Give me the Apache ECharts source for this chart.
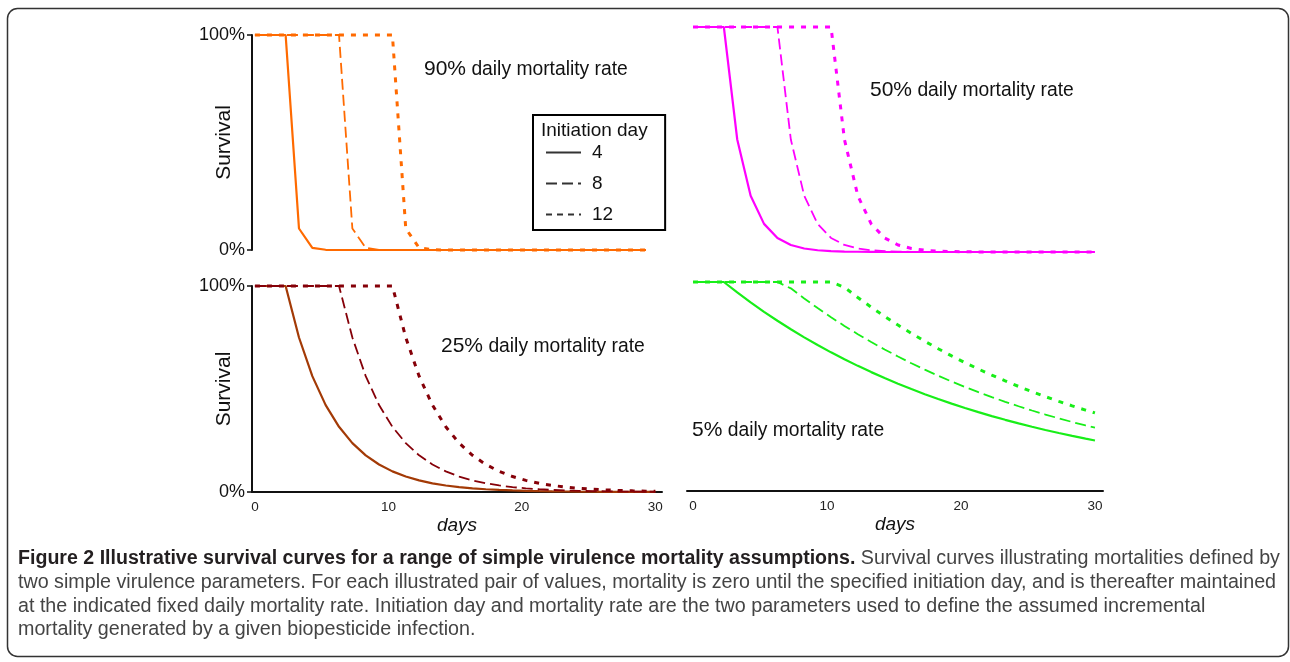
<!DOCTYPE html>
<html><head><meta charset="utf-8">
<script src="https://cdn.jsdelivr.net/npm/echarts@6/dist/echarts.min.js"></script>
<style>html,body{margin:0;padding:0;background:#fff}#c{width:1290px;height:662px}</style>
</head><body><div id="c"></div>
<script>
// ---- data (days after start; survival in %) ----
const days = [0, 1.3, 2.3, 3.3, 4.3, 5.3, 6.3, 7.3, 8.3, 9.3, 10.3, 11.3, 12.3, 13.3, 14.3, 15.3, 16.3, 17.3, 18.3, 19.3, 20.3, 21.3, 22.3, 23.3, 24.3, 25.3, 26.3, 27.3, 28.3, 29.3, 30];
const xTickValues = [0, 10, 20, 30];
const initiationDays = ['4', '8', '12'];
const rateLabels = ['90%', '50%', '25%', '5%'];

// 90% daily mortality rate (top-left panel ends at day 29.3)
const s90_d4  = [100,100,100,10,1,0.1,0,0,0,0,0,0,0,0,0,0,0,0,0,0,0,0,0,0,0,0,0,0,0,0];
const s90_d8  = [100,100,100,100,100,100,100,10,1,0.1,0,0,0,0,0,0,0,0,0,0,0,0,0,0,0,0,0,0,0,0];
const s90_d12 = [100,100,100,100,100,100,100,100,100,100,100,10,1,0.1,0,0,0,0,0,0,0,0,0,0,0,0,0,0,0,0];

// 50% daily mortality rate
const s50_d4  = [100,100,100,50,25,12.5,6.25,3.13,1.56,0.78,0.39,0.2,0.1,0.05,0.02,0.01,0,0,0,0,0,0,0,0,0,0,0,0,0,0,0];
const s50_d8  = [100,100,100,100,100,100,100,50,25,12.5,6.25,3.13,1.56,0.78,0.39,0.2,0.1,0.05,0.02,0.01,0,0,0,0,0,0,0,0,0,0,0];
const s50_d12 = [100,100,100,100,100,100,100,100,100,100,100,50,25,12.5,6.25,3.13,1.56,0.78,0.39,0.2,0.1,0.05,0.02,0.01,0,0,0,0,0,0,0];

// 25% daily mortality rate
const s25_d4  = [100,100,100,75,56.25,42.19,31.64,23.73,17.8,13.35,10.01,7.51,5.63,4.22,3.17,2.38,1.78,1.34,1,0.75,0.56,0.42,0.32,0.24,0.18,0.13,0.1,0.08,0.06,0.04,0.03];
const s25_d8  = [100,100,100,100,100,100,100,75,56.25,42.19,31.64,23.73,17.8,13.35,10.01,7.51,5.63,4.22,3.17,2.38,1.78,1.34,1,0.75,0.56,0.42,0.32,0.24,0.18,0.13,0.11];
const s25_d12 = [100,100,100,100,100,100,100,100,100,100,100,75,56.25,42.19,31.64,23.73,17.8,13.35,10.01,7.51,5.63,4.22,3.17,2.38,1.78,1.34,1,0.75,0.56,0.42,0.35];

// 5% daily mortality rate
const s5_d4  = [100,100,100,95,90.25,85.74,81.45,77.38,73.51,69.83,66.34,63.02,59.87,56.88,54.04,51.33,48.77,46.33,44.01,41.81,39.72,37.74,35.85,34.06,32.35,30.74,29.2,27.74,26.35,25.03,24.15];
const s5_d8  = [100,100,100,100,100,100,100,96.97,92.12,87.51,83.14,78.98,75.03,71.28,67.72,64.33,61.11,58.06,55.16,52.4,49.78,47.29,44.92,42.68,40.55,38.52,36.59,34.76,33.02,31.37,30.27];
const s5_d12 = [100,100,100,100,100,100,100,100,100,100,100,97.47,92.59,87.97,83.57,79.39,75.42,71.65,68.07,64.66,61.43,58.36,55.44,52.67,50.03,47.53,45.16,42.9,40.75,38.72,37.35];

// ---- styling ----
const FONT = 'Liberation Sans, Arial, sans-serif';
const pairs = vals => vals.map((v, i) => [days[i], v]);
const dashStyles = [
  {type: 'solid', width: 2.2},
  {type: [11, 5], width: 1.8},
  {type: [5, 7], width: 3}
];

function panelSeries(idx, color, solidColor, arrays) {
  return arrays.map((arr, k) => ({
    type: 'line', xAxisIndex: idx, yAxisIndex: idx,
    data: pairs(arr), symbol: 'none', clip: false, silent: true,
    lineStyle: {color: k === 0 ? solidColor : color, width: dashStyles[k].width, type: dashStyles[k].type, cap: 'butt'},
    z: 2 + k
  }));
}

const series = [].concat(
  panelSeries(0, '#ff6a00', '#ff6a00', [s90_d4, s90_d8, s90_d12]),
  panelSeries(1, '#ff00ff', '#ff00ff', [s50_d4, s50_d8, s50_d12]),
  panelSeries(2, '#850008', '#a33a06', [s25_d4, s25_d8, s25_d12]),
  panelSeries(3, '#18ee18', '#18ee18', [s5_d4, s5_d8, s5_d12]),
  initiationDays.map((n, k) => ({
    type: 'line', name: n, xAxisIndex: 0, yAxisIndex: 0, data: [], symbol: 'none',
    itemStyle: {color: '#333', opacity: 0},
    lineStyle: {color: '#333', width: 2.4, type: k === 2 ? [6, 5] : dashStyles[k].type}
  }))
);

const hiddenX = (idx, min, max) => ({type: 'value', gridIndex: idx, min, max, show: false});
const shownX = (idx, min, max) => ({
  type: 'value', gridIndex: idx, min, max,
  axisLine: {show: true, onZero: false, lineStyle: {color: '#111', width: 2}},
  axisTick: {show: false}, splitLine: {show: false},
  axisLabel: {customValues: xTickValues, margin: 8, fontSize: 13.5, color: '#222', fontFamily: FONT},
  name: 'days', nameLocation: 'middle', nameGap: 24, nameMoveOverlap: false,
  nameTextStyle: {fontSize: 19, fontStyle: 'italic', color: '#111', fontFamily: FONT}
});
const shownY = idx => ({
  type: 'value', gridIndex: idx, min: 0, max: 100, interval: 100,
  axisLine: {show: true, onZero: false, lineStyle: {color: '#111', width: 2}},
  axisTick: {show: true, length: 5, lineStyle: {color: '#111', width: 1.5}},
  splitLine: {show: false},
  axisLabel: {formatter: '{value}%', margin: 7, fontSize: 18, color: '#111', fontFamily: FONT},
  name: 'Survival', nameLocation: 'middle', nameGap: 17, nameMoveOverlap: false,
  nameTextStyle: {fontSize: 21, color: '#111', fontFamily: FONT}
});
const hiddenY = idx => ({type: 'value', gridIndex: idx, min: 0, max: 100, show: false});

const richLbl = {
  p: {fontSize: 21, fontWeight: 'normal', color: '#111', fontFamily: FONT},
  t: {fontSize: 19.3, fontWeight: 'normal', color: '#111', fontFamily: FONT}
};
const lbl = (i, left, top) => ({
  text: '{p|' + rateLabels[i] + '}{t| daily mortality rate}', left, top, padding: 0,
  textStyle: {fontWeight: 'normal', rich: richLbl}
});

const capB = {fontSize: 19.6, fontWeight: 'bold', color: '#231f20', fontFamily: FONT, lineHeight: 23.7};
const capR = {fontSize: 19.7, fontWeight: 'normal', color: '#444444', fontFamily: FONT, lineHeight: 23.7};
const caption = '{b|Figure 2 Illustrative survival curves for a range of simple virulence mortality assumptions.}{r| Survival curves illustrating mortalities defined by}\n' +
  '{r|two simple virulence parameters. For each illustrated pair of values, mortality is zero until the specified initiation day, and is thereafter maintained}\n' +
  '{r|at the indicated fixed daily mortality rate. Initiation day and mortality rate are the two parameters used to define the assumed incremental}\n' +
  '{r|mortality generated by a given biopesticide infection.}';

const option = {
  animation: false,
  backgroundColor: '#fff',
  grid: [
    {left: 252, top: 35, width: 410, height: 215},
    {left: 687, top: 27, width: 416, height: 225},
    {left: 252, top: 286, width: 410, height: 206},
    {left: 687, top: 282, width: 416, height: 209}
  ],
  xAxis: [hiddenX(0, -0.22, 30.5), hiddenX(1, -0.45, 30.6), shownX(2, -0.22, 30.5), shownX(3, -0.45, 30.6)],
  yAxis: [shownY(0), hiddenY(1), shownY(2), hiddenY(3)],
  title: [
    lbl(0, 424, 59), lbl(1, 870, 80), lbl(2, 441, 336), lbl(3, 692, 420),
    {text: 'Initiation day', left: 541, top: 121, padding: 0, textStyle: {fontSize: 19, fontWeight: 'normal', color: '#111', fontFamily: FONT}},
    {text: caption, left: 18, top: 547, padding: 0, textStyle: {fontWeight: 'normal', rich: {b: capB, r: capR}}}
  ],
  legend: {
    data: initiationDays, orient: 'vertical', left: 533, top: 115,
    itemWidth: 35, itemHeight: 14, itemGap: 12,
    padding: [28, 52, 6, 12], borderColor: '#000', borderWidth: 2,
    selectedMode: false,
    itemStyle: {opacity: 0},
    textStyle: {fontSize: 19, color: '#111', fontFamily: FONT, padding: [0, 0, 0, 6]}
  },
  graphic: [{
    type: 'rect', silent: true, z: -1,
    shape: {x: 7.5, y: 8.5, width: 1281, height: 648, r: 10},
    style: {fill: 'none', stroke: '#333', lineWidth: 1.5}
  }],
  series
};
const chart = echarts.init(document.getElementById('c'), null, {renderer: 'canvas'});
chart.setOption(option);
</script>
</body></html>
